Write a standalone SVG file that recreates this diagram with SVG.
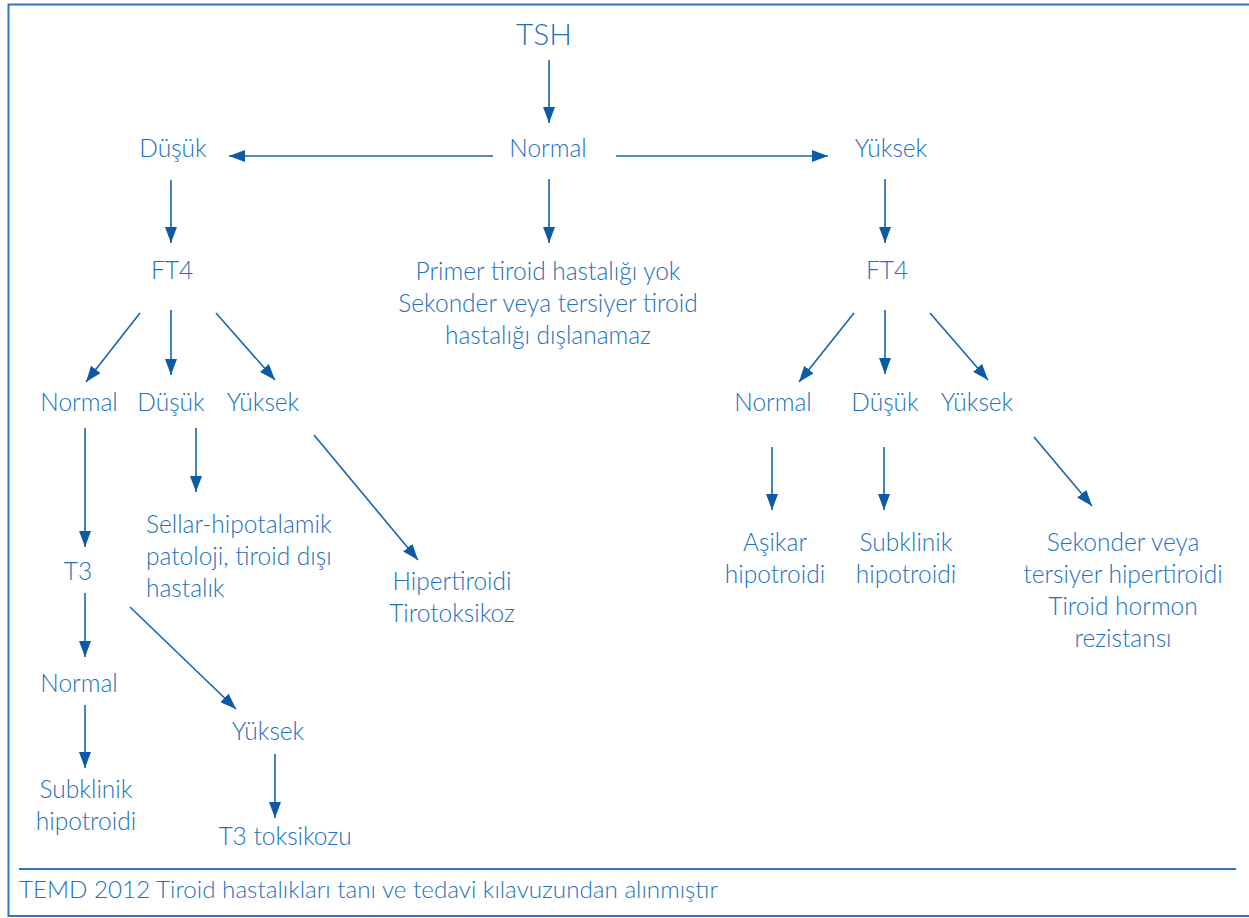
<svg xmlns="http://www.w3.org/2000/svg" width="1249" height="918" viewBox="0 0 1249 918">
  <style>
    text { font-family: Lato, "Open Sans", "Liberation Sans", sans-serif; font-weight: 300; font-size: 24.5px; fill: #2272bb; }
    .c { text-anchor: middle; }
    .conn line { stroke: #1a63ab; stroke-width: 1.6; marker-end: url(#arr); }
    .foot { font-size: 23px; }
  </style>
  <defs>
    <marker id="arr" markerUnits="userSpaceOnUse" markerWidth="16" markerHeight="12" viewBox="0 0 16 12" refX="16" refY="6" orient="auto">
      <path d="M0,0 L16,6 L0,12 z" fill="#0c5ba6"/>
    </marker>
  </defs>
  <rect x="0" y="0" width="1249" height="918" fill="#ffffff"/>
  <rect id="frame" x="8.5" y="4.5" width="1250" height="911.5" fill="none" stroke="#2e76bd" stroke-width="2"/>
  <line x1="19" y1="869" x2="1236" y2="869" stroke="#2e76bd" stroke-width="2"/>

  <g class="conn" id="connectors">
    <line x1="549" y1="60" x2="549" y2="123"/>
    <line x1="493" y1="156" x2="229" y2="156"/>
    <line x1="616" y1="156" x2="828" y2="156"/>
    <line x1="549" y1="179" x2="549" y2="243"/>
    <line x1="171" y1="180" x2="171" y2="243"/>
    <line x1="885" y1="179" x2="885" y2="243"/>
    <line x1="140" y1="313" x2="86" y2="382"/>
    <line x1="171" y1="310" x2="171" y2="375"/>
    <line x1="216" y1="313" x2="275" y2="380"/>
    <line x1="854" y1="313" x2="799" y2="382"/>
    <line x1="885" y1="310" x2="885" y2="374"/>
    <line x1="930" y1="313" x2="988" y2="380"/>
    <line x1="85" y1="428" x2="85" y2="547"/>
    <line x1="196" y1="428" x2="196" y2="492"/>
    <line x1="314" y1="435" x2="418" y2="560"/>
    <line x1="85" y1="593" x2="85" y2="657"/>
    <line x1="130" y1="607" x2="236" y2="709"/>
    <line x1="85" y1="705" x2="85" y2="768"/>
    <line x1="275" y1="754" x2="275" y2="818"/>
    <line x1="772" y1="447" x2="772" y2="510"/>
    <line x1="884" y1="447" x2="884" y2="510"/>
    <line x1="1034" y1="437" x2="1092" y2="506"/>
  </g>

  <g id="tsh"><text class="c" x="544" y="45" style="font-size:30px">TSH</text></g>
  <g id="normal-top"><text class="c" x="548" y="157">Normal</text></g>
  <g id="dusuk-top"><text class="c" x="173" y="157">Düşük</text></g>
  <g id="yuksek-top"><text class="c" x="891" y="157">Yüksek</text></g>
  <g id="ft4-left"><text class="c" x="172" y="279">FT4</text></g>
  <g id="ft4-right"><text class="c" x="887" y="279">FT4</text></g>
  <g id="primer">
    <text class="c" x="548" y="280">Primer tiroid hastalığı yok</text>
    <text class="c" x="548" y="312">Sekonder veya tersiyer tiroid</text>
    <text class="c" x="548" y="344">hastalığı dışlanamaz</text>
  </g>
  <g id="l-normal"><text class="c" x="79" y="411">Normal</text></g>
  <g id="l-dusuk"><text class="c" x="171" y="411">Düşük</text></g>
  <g id="l-yuksek"><text class="c" x="263" y="411">Yüksek</text></g>
  <g id="r-normal"><text class="c" x="773" y="411">Normal</text></g>
  <g id="r-dusuk"><text class="c" x="885" y="411">Düşük</text></g>
  <g id="r-yuksek"><text class="c" x="977" y="411">Yüksek</text></g>
  <g id="t3"><text class="c" x="78" y="580">T3</text></g>
  <g id="sellar">
    <text x="146" y="533">Sellar-hipotalamik</text>
    <text x="146" y="565">patoloji, tiroid dışı</text>
    <text x="146" y="597">hastalık</text>
  </g>
  <g id="hipertiroidi">
    <text class="c" x="452" y="590">Hipertiroidi</text>
    <text class="c" x="452" y="622">Tirotoksikoz</text>
  </g>
  <g id="t3-normal"><text class="c" x="79" y="692">Normal</text></g>
  <g id="t3-yuksek"><text class="c" x="268" y="740">Yüksek</text></g>
  <g id="subklinik-left">
    <text class="c" x="86" y="798">Subklinik</text>
    <text class="c" x="86" y="830">hipotroidi</text>
  </g>
  <g id="t3-toksikozu"><text class="c" x="285" y="845">T3 toksikozu</text></g>
  <g id="asikar">
    <text class="c" x="775" y="551">Aşikar</text>
    <text class="c" x="775" y="583">hipotroidi</text>
  </g>
  <g id="subklinik-right">
    <text class="c" x="906" y="551">Subklinik</text>
    <text class="c" x="906" y="583">hipotroidi</text>
  </g>
  <g id="sekonder">
    <text class="c" x="1123" y="551">Sekonder veya</text>
    <text class="c" x="1123" y="583">tersiyer hipertiroidi</text>
    <text class="c" x="1123" y="615">Tiroid hormon</text>
    <text class="c" x="1123" y="647">rezistansı</text>
  </g>
  <g id="footer"><text class="foot" x="19" y="898" textLength="699" lengthAdjust="spacingAndGlyphs">TEMD 2012 Tiroid hastalıkları tanı ve tedavi kılavuzundan alınmıştır</text></g>
</svg>
